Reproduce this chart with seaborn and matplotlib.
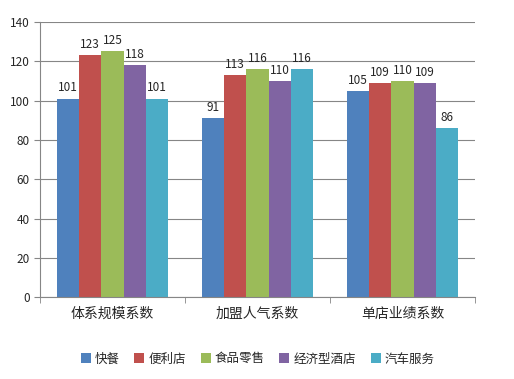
import pandas as pd
import matplotlib
matplotlib.use('Agg')
import matplotlib.pyplot as plt
import seaborn as sns

categories = ['体系规模系数', '加盟人气系数', '单店业绩系数']
series = ['快餐', '便利店', '食品零售', '经济型酒店', '汽车服务']
kuaican = [101, 91, 105]
bianlidian = [123, 113, 109]
shipin = [125, 116, 110]
jiudian = [118, 110, 109]
qiche = [101, 116, 86]
colors = ['#4F81BD', '#C0504D', '#9BBB59', '#8064A2', '#4BACC6']

sns.set_style('white')
plt.rcParams['font.family'] = ['Noto Sans CJK SC', 'DejaVu Sans']

rows = []
for name, vals in zip(series, [kuaican, bianlidian, shipin, jiudian, qiche]):
    for cat, v in zip(categories, vals):
        rows.append({'cat': cat, 'series': name, 'value': v})
df = pd.DataFrame(rows)

fig = plt.figure(figsize=(5.14, 3.79), dpi=100)
ax = fig.add_axes([0.078, 0.216, 0.846, 0.726])
sns.barplot(data=df, x='cat', y='value', hue='series', palette=colors,
            width=0.77, saturation=1, linewidth=0, ax=ax, legend=True)

for c in ax.containers:
    ax.bar_label(c, fontsize=8.5, padding=3)

ax.set_ylim(0, 140)
ax.set_yticks(range(0, 141, 20))
ax.set_xlim(-0.5, 2.5)
ax.yaxis.grid(True, color='#868686', linewidth=0.8)
ax.set_axisbelow(True)
ax.set_xlabel('')
ax.set_ylabel('')
for s in ['top', 'right']:
    ax.spines[s].set_visible(False)
ax.spines['left'].set_color('#868686')
ax.spines['bottom'].set_color('#868686')
ax.tick_params(axis='y', left=True, length=4, color='#868686', labelsize=8.5)
ax.tick_params(axis='x', bottom=False, labelsize=10)
ax.set_xticks([-0.5, 0.5, 1.5, 2.5], minor=True)
ax.tick_params(axis='x', which='minor', bottom=True, length=4, color='#868686')

ax.legend(loc='upper center', bbox_to_anchor=(0.5, -0.16), ncol=5, frameon=False,
          fontsize=9, handlelength=0.8, handleheight=0.8, columnspacing=1.2,
          handletextpad=0.3)

fig.savefig('out.png', dpi=100)
